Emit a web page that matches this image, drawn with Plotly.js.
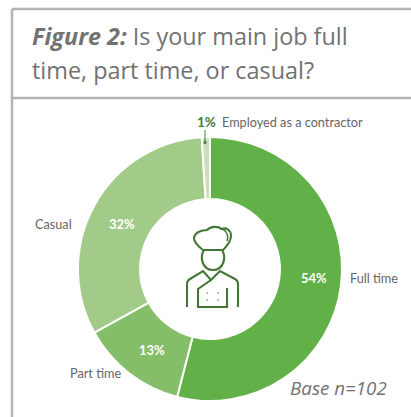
<!DOCTYPE html>
<html>
<head>
<meta charset="utf-8">
<script src="https://cdn.plot.ly/plotly-3.0.1.min.js"></script>
<style>html,body{margin:0;padding:0;background:#fff}#chart{width:411px;height:417px}</style>
</head>
<body>
<div id="chart"></div>
<script>
// Employment type of respondents' main job
const categories = ['Full time', 'Part time', 'Casual', 'Employed as a contractor'];
const shares = [54, 13, 32, 1];
const sliceColours = ['#62b048', '#85be68', '#a2ca88', '#c9dfba'];
const shareLabels = ['54%', '13%', '32%', '1%'];

const narrow = 'Lato, "Liberation Sans", sans-serif';
const body = '"Open Sans", "Noto Sans", sans-serif';
const iconGreen = '#437637';
const frameGrey = '#b5b3b3';
const textGrey = '#727272';

function note(x, y, text, size, colour, family, anchor) {
  return {xref: 'x', yref: 'y', x, y, text, showarrow: false, xanchor: anchor || 'left', yanchor: 'middle',
          font: {size, color: colour, family}};
}
function stroke(path, width) {
  return {type: 'path', xref: 'x', yref: 'y', path, layer: 'above', line: {color: iconGreen, width: width || 2.1}};
}
function rule(x0, y0, x1, y1) {
  return {type: 'line', xref: 'x', yref: 'y', x0, y0, x1, y1, line: {color: frameGrey, width: 2.5}};
}

const trace = {
  type: 'pie', hole: 0.53, sort: false, direction: 'clockwise', rotation: 0,
  values: shares, labels: categories, textinfo: 'none',
  marker: {colors: sliceColours, line: {color: '#ffffff', width: 2}},
  domain: {x: [78 / 411, 342 / 411], y: [1 - 401 / 417, 1 - 137 / 417]},
  showlegend: false, hoverinfo: 'label+percent'
};

const layout = {
  width: 411, height: 417, margin: {l: 0, r: 0, t: 0, b: 0},
  paper_bgcolor: '#fff', plot_bgcolor: 'rgba(0,0,0,0)', showlegend: false,
  xaxis: {visible: false, range: [0, 411], fixedrange: true},
  yaxis: {visible: false, range: [417, 0], fixedrange: true},
  annotations: [
    note(30, 36, '<b><i>Figure 2:</i></b> Is your main job full', 23.4, textGrey, body),
    note(30, 70, 'time, part time, or casual?', 23.4, textGrey, body),
    note(195, 122, '<b>' + shareLabels[3] + '</b>', 13.5, '#47793a', narrow),
    note(220, 122, categories[3], 12.7, '#666', narrow),
    note(74, 224, categories[2], 12.7, '#666', narrow, 'right'),
    note(348, 278, categories[0], 12.7, '#666', narrow),
    note(68, 373, categories[1], 12.7, '#666', narrow),
    note(314, 278, '<b>' + shareLabels[0] + '</b>', 13, '#fff', narrow, 'center'),
    note(152, 350, '<b>' + shareLabels[1] + '</b>', 13, '#fff', narrow, 'center'),
    note(122, 224, '<b>' + shareLabels[2] + '</b>', 13, '#fff', narrow, 'center'),
    note(288, 388, '<i>Base n=102</i>', 18.8, textGrey, body)
  ],
  shapes: [
    rule(12, 9, 411, 9), rule(12, 9, 12, 417), rule(12, 98, 411, 98),
    // leader from the contractor label into its slice
    {type: 'line', xref: 'x', yref: 'y', x0: 205, y0: 130, x1: 205, y1: 143, layer: 'above', line: {color: '#47793a', width: 1}},
    {type: 'circle', xref: 'x', yref: 'y', x0: 203.5, y0: 141, x1: 206.5, y1: 144, layer: 'above', fillcolor: '#47793a', line: {width: 0}},
    // chef icon: hat
    stroke('M 203 250 L 223 250 C 226 247 231 242 231 236 C 231 230 226 227 222 229 C 218 226 211 226 207 230 C 202 230 195 232 194 238 C 194 243 199 247 203 250 Z'),
    stroke('M 220 229 C 226 229 229 235 227 241', 1.5),
    // head
    stroke('M 204 250 C 199 258 203 270 213 270 C 223 270 227 258 222 250'),
    // shoulders and arms
    stroke('M 187 307 L 187 284 C 187 281 188 280 190 279 L 203 271 L 211 280 L 220 271 L 235 279 C 237 280 238 282 238 284 L 238 307'),
    // jacket front
    stroke('M 211 280 L 198 289 L 198 307 L 227 307 L 227 288'),
    // buttons
    stroke('M 206.6 293 L 207.6 293 M 217.6 293 L 218.6 293 M 206.6 300 L 207.6 300 M 217.6 300 L 218.6 300', 1.7)
  ]
};

Plotly.newPlot('chart', [trace], layout, {displayModeBar: false, staticPlot: true});
</script>
</body>
</html>
